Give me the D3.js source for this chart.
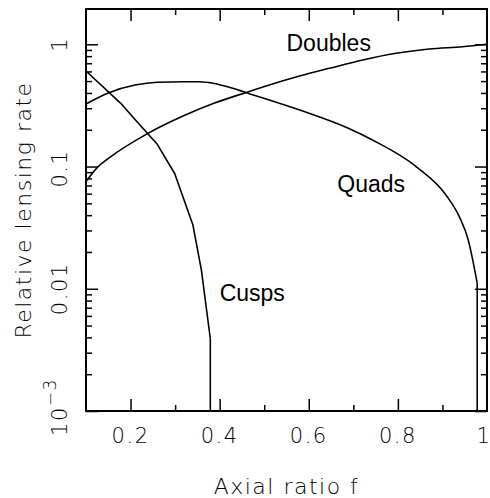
<!DOCTYPE html>
<html>
<head>
<meta charset="utf-8">
<script src="https://cdn.jsdelivr.net/npm/d3@7"></script>
<style>
  html, body { margin: 0; padding: 0; background: #fff; }
  svg { display: block; }
  .tick-label { font-family: "DejaVu Sans", sans-serif; font-weight: 200; font-size: 21px; letter-spacing: 1.5px; fill: #000; }
  .title { font-family: "DejaVu Sans", sans-serif; font-weight: 200; font-size: 22px; letter-spacing: 1.5px; fill: #000; }
  .anno { font-family: "Liberation Sans", Arial, sans-serif; font-size: 23px; fill: #000; }
</style>
</head>
<body>
<script>
// ---- data ----
const doublesX = [0.10, 0.125, 0.151, 0.237, 0.319, 0.387, 0.458, 0.579, 0.646, 0.721, 0.796, 0.870, 0.945, 1.0];
const doublesY = [0.0753, 0.098, 0.117, 0.185, 0.260, 0.329, 0.402, 0.550, 0.636, 0.745, 0.844, 0.916, 0.956, 1.0];

const quadsX = [0.10, 0.15, 0.21, 0.26, 0.32, 0.355, 0.385, 0.42, 0.46, 0.58, 0.69, 0.743, 0.841, 0.908, 0.938, 0.958, 0.978, 0.978];
const quadsY = [0.325, 0.400, 0.464, 0.489, 0.494, 0.494, 0.480, 0.447, 0.402, 0.290, 0.205, 0.165, 0.100, 0.0585, 0.0388, 0.025, 0.0111, 0.001];

const cuspsX = [0.10, 0.178, 0.211, 0.26, 0.299, 0.34, 0.359, 0.379, 0.379];
const cuspsY = [0.605, 0.329, 0.240, 0.152, 0.0877, 0.0332, 0.0142, 0.0039, 0.001];

const xMajorTicks = [0.2, 0.4, 0.6, 0.8, 1];
const xMajorLabels = ["0.2", "0.4", "0.6", "0.8", "1"];
const xMinorTicks = [0.3, 0.5, 0.7, 0.9];
const yMajorTicks = [1, 0.1, 0.01, 0.001];

const seriesLabels = ["Doubles", "Quads", "Cusps"];

// ---- layout ----
const W = 490, H = 498;
const L = 86, R = 487, T = 9, B = 411;

const svg = d3.select("body").append("svg").attr("width", W).attr("height", H);

const x = d3.scaleLinear().domain([0.1, 1]).range([L, R]);
const y = d3.scaleLog().domain([0.001, 1.945]).range([B, T]);

// minor y ticks
const yMinorTicks = [];
[0.001, 0.01, 0.1, 1].forEach(d => { for (let k = 2; k <= 9; k++) { const v = d * k; if (v < 1.945) yMinorTicks.push(v); } });

const major = 12, minor = 6;

function axisGroup(axisFn, tx, ty) {
  const g = svg.append("g").attr("transform", `translate(${tx},${ty})`).call(axisFn);
  g.select(".domain").remove();
  g.selectAll("text").remove();
  g.selectAll("line").attr("stroke", "#000").attr("stroke-width", 1.5);
  return g;
}

// bottom & top
axisGroup(d3.axisBottom(x).tickValues(xMajorTicks.filter(d => d < 1)).tickSize(-major), 0, B);
axisGroup(d3.axisBottom(x).tickValues(xMinorTicks).tickSize(-minor), 0, B);
axisGroup(d3.axisTop(x).tickValues(xMajorTicks.filter(d => d < 1)).tickSize(-major), 0, T);
axisGroup(d3.axisTop(x).tickValues(xMinorTicks).tickSize(-minor), 0, T);
// left & right
axisGroup(d3.axisLeft(y).tickValues(yMajorTicks).tickSize(-major), L, 0);
axisGroup(d3.axisLeft(y).tickValues(yMinorTicks).tickSize(-minor), L, 0);
axisGroup(d3.axisRight(y).tickValues(yMajorTicks).tickSize(-major), R, 0);
axisGroup(d3.axisRight(y).tickValues(yMinorTicks).tickSize(-minor), R, 0);

// frame
svg.append("rect").attr("x", L).attr("y", T).attr("width", R - L).attr("height", B - T)
  .attr("fill", "none").attr("stroke", "#000").attr("stroke-width", 2);

// x tick labels
svg.selectAll(".xl").data(xMajorTicks).enter().append("text")
  .attr("class", "tick-label")
  .attr("x", d => x(d) - (d === 1 ? 3 : 0))
  .attr("y", 443)
  .attr("text-anchor", "middle")
  .text((d, i) => xMajorLabels[i]);

// y tick labels (rotated)
const yLabelPos = [
  { v: 1, text: "1", dy: 0 },
  { v: 0.1, text: "0.1", dy: 2 },
  { v: 0.01, text: "0.01", dy: 0 },
];
yLabelPos.forEach(p => {
  svg.append("text").attr("class", "tick-label")
    .attr("transform", `translate(67,${y(p.v) + p.dy}) rotate(-90)`)
    .attr("text-anchor", "middle")
    .text(p.text);
});
// 10^-3
{
  const t = svg.append("text").attr("class", "tick-label")
    .attr("transform", `translate(67,${y(0.001) - 4}) rotate(-90)`)
    .attr("text-anchor", "middle");
  t.append("tspan").text("10");
  t.append("tspan").attr("dy", -11).attr("font-size", 17).text("\u22123");
}

// axis titles
svg.append("text").attr("class", "title")
  .attr("x", (L + R) / 2).attr("y", 494).attr("text-anchor", "middle")
  .text("Axial ratio f");
svg.append("text").attr("class", "title")
  .attr("transform", `translate(31,${(T + B) / 2}) rotate(-90)`)
  .attr("text-anchor", "middle")
  .text("Relative lensing rate");

// curves: smooth monotone part + straight vertical drop (repeated x)
const smooth = d3.line().x(d => x(d[0])).y(d => y(d[1])).curve(d3.curveMonotoneX);
const straight = d3.line().x(d => x(d[0])).y(d => y(d[1]));
function drawSeries(xs, ys, useSmooth) {
  const pts = d3.zip(xs, ys);
  let cut = pts.length;
  for (let i = 1; i < pts.length; i++) if (pts[i][0] === pts[i - 1][0]) { cut = i; break; }
  const main = pts.slice(0, cut);
  const drop = cut < pts.length ? pts.slice(cut - 1) : null;
  const g = svg.append("g").attr("fill", "none").attr("stroke", "#000")
    .attr("stroke-width", 1.6).attr("stroke-linejoin", "round");
  g.append("path").attr("d", (useSmooth ? smooth : straight)(main));
  if (drop) g.append("path").attr("d", straight(drop));
}
drawSeries(doublesX, doublesY, true);
drawSeries(quadsX, quadsY, true);
drawSeries(cuspsX, cuspsY, false);

// annotations
const annoPos = [[0.550, 0.89], [0.664, 0.062], [0.400, 0.0079]];
svg.selectAll(".anno").data(seriesLabels).enter().append("text")
  .attr("class", "anno")
  .attr("x", (d, i) => x(annoPos[i][0]))
  .attr("y", (d, i) => y(annoPos[i][1]))
  .text(d => d);
</script>
</body>
</html>
